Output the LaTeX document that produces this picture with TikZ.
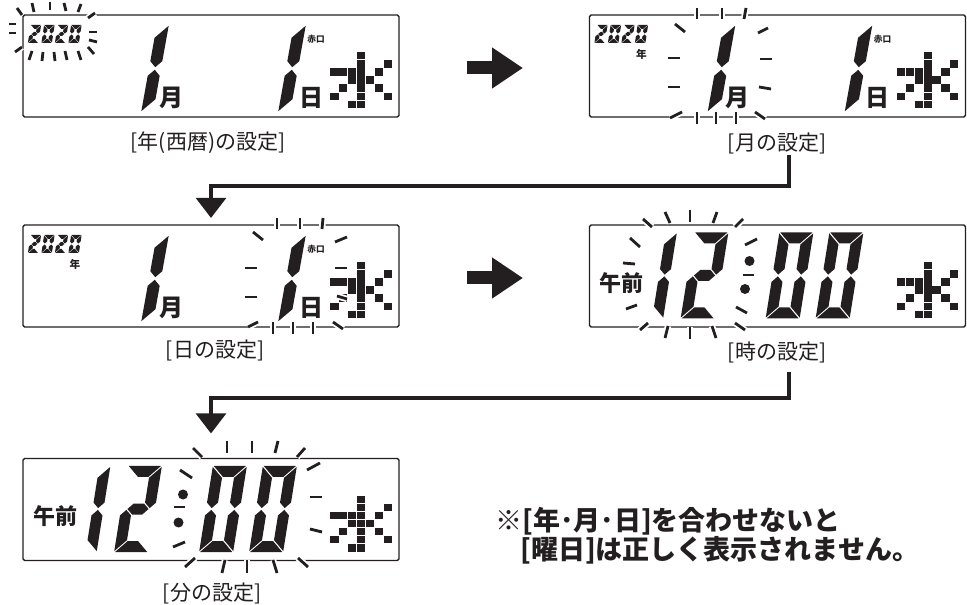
\documentclass[tikz,border=0pt]{standalone}
\usepackage{fontspec}
\setmainfont{Noto Sans CJK JP}
\usetikzlibrary{arrows.meta,calc}

\definecolor{ink}{RGB}{35,31,32}

% segment digits: width, height, half thickness, gap, slant
\newcommand{\digitsize}[5]{\pgfmathsetmacro\sgw{#1/2}\pgfmathsetmacro\sgh{#2/2}\def\sgt{#3}\def\sgd{#4}\def\sgs{#5}}
\newcommand{\lcda}{\fill[ink] (-\sgw-\sgt+\sgd,-\sgh-\sgt) -- (\sgw+\sgt-\sgd,-\sgh-\sgt) -- (\sgw-\sgt-\sgd,-\sgh+\sgt) -- (-\sgw+\sgt+\sgd,-\sgh+\sgt) -- cycle;}
\newcommand{\lcdb}{\fill[ink] (\sgw+\sgt,-\sgh-\sgt+\sgd) -- (\sgw+\sgt,-\sgd-\sgt) -- (\sgw,-\sgd) -- (\sgw-\sgt,-\sgd-\sgt) -- (\sgw-\sgt,-\sgh+\sgt+\sgd) -- cycle;}
\newcommand{\lcdc}{\fill[ink] (\sgw,\sgd) -- (\sgw+\sgt,\sgd+\sgt) -- (\sgw+\sgt,\sgh+\sgt-\sgd) -- (\sgw-\sgt,\sgh-\sgt-\sgd) -- (\sgw-\sgt,\sgd+\sgt) -- cycle;}
\newcommand{\lcdd}{\fill[ink] (-\sgw+\sgt+\sgd,\sgh-\sgt) -- (\sgw-\sgt-\sgd,\sgh-\sgt) -- (\sgw+\sgt-\sgd,\sgh+\sgt) -- (-\sgw-\sgt+\sgd,\sgh+\sgt) -- cycle;}
\newcommand{\lcde}{\fill[ink] (-\sgw,\sgd) -- (-\sgw+\sgt,\sgd+\sgt) -- (-\sgw+\sgt,\sgh-\sgt-\sgd) -- (-\sgw-\sgt,\sgh+\sgt-\sgd) -- (-\sgw-\sgt,\sgd+\sgt) -- cycle;}
\newcommand{\lcdf}{\fill[ink] (-\sgw-\sgt,-\sgh-\sgt+\sgd) -- (-\sgw+\sgt,-\sgh+\sgt+\sgd) -- (-\sgw+\sgt,-\sgd-\sgt) -- (-\sgw,-\sgd) -- (-\sgw-\sgt,-\sgd-\sgt) -- cycle;}
\newcommand{\lcdg}{\fill[ink] (-\sgw+\sgd,0) -- (-\sgw+\sgd+\sgt,-\sgt) -- (\sgw-\sgd-\sgt,-\sgt) -- (\sgw-\sgd,0) -- (\sgw-\sgd-\sgt,\sgt) -- (-\sgw+\sgd+\sgt,\sgt) -- cycle;}
\newcommand{\lcdnum}[3]{\begin{scope}[shift={(#1,#2)},xslant=\sgs]\foreach \sg in {#3}{\csname lcd\sg\endcsname}\end{scope}}

% weekday mark, 7x7 dots
\newcommand{\suimark}[2]{\begin{scope}[shift={(#1,#2)}]
  \foreach \cx/\cy in {3/0,3/1,6/1,0/2,1/2,2/2,3/2,5/2,2/3,3/3,4/3,1/4,3/4,5/4,0/5,3/5,6/5,2/6,3/6}
    \fill[ink] (\cx*8.9+0.35,\cy*8.1+0.35) rectangle ++(8.2,7.4);
\end{scope}}

% blinking marks
\newcommand{\flashmarks}[1]{%
  \foreach \xa/\ya/\xb/\yb in {#1}{\draw[flashhalo] (\xa,\ya) -- (\xb,\yb);}
  \foreach \xa/\ya/\xb/\yb in {#1}{\draw[flashray] (\xa,\ya) -- (\xb,\yb);}}

\newcommand{\datescreen}[1]{%
  \digitsize{6.5}{14}{2}{0.45}{-0.15}
  \lcdnum{11.5}{19}{a,b,g,e,d}\lcdnum{25}{19}{a,b,c,d,e,f}\lcdnum{38.5}{19}{a,b,g,e,d}\lcdnum{52}{19}{a,b,c,d,e,f}
  \digitsize{0}{76}{6}{1.3}{-0.18}
  \lcdnum{132}{53.5}{b,e}\lcdnum{269}{53.5}{b,e}
  \node[unitchar] (#1mon) at (148,83) {月};
  \node[unitchar] (#1day) at (288,83) {日};
  \node[tinychar] (#1rokuyo) at (293,24) {赤口};
  \suimark{307}{36.7}}

\newcommand{\timescreen}[1]{%
  \node[ampm] (#1ampm) at (32,58) {午前};
  \digitsize{23}{75}{5.5}{0.9}{-0.16}
  \lcdnum{63.5}{50.5}{b,c}\lcdnum{115}{50.5}{a,b,g,e,d}
  \lcdnum{200}{50.5}{a,b,c,d,e,f}\lcdnum{250}{50.5}{a,b,c,d,e,f}
  \fill[ink] (160,36) circle (5);
  \fill[ink] (155.5,64) circle (5);
  \suimark{307}{36.7}}

\begin{document}
\begin{tikzpicture}[x=0.75pt,y=0.75pt,yscale=-1,xscale=1,
  panel/.style={draw=ink,line width=1.1pt,rounded corners=1.2pt,minimum width=282pt,minimum height=76.5pt,inner sep=0pt,outer sep=0pt},
  caption/.style={font=\fontsize{15.75}{18}\selectfont,text=ink,inner sep=0pt},
  note/.style={font=\bfseries\fontsize{20.25}{24}\selectfont,text=ink,inner sep=0pt,anchor=west},
  unitchar/.style={font=\bfseries\fontsize{18}{20}\selectfont,text=ink,inner sep=0pt},
  ampm/.style={font=\bfseries\fontsize{16.5}{18}\selectfont,text=ink,inner sep=0pt},
  tinychar/.style={font=\bfseries\fontsize{6.5}{7}\selectfont,text=ink,inner sep=0pt},
  yearchar/.style={font=\bfseries\fontsize{8}{9}\selectfont,text=ink,inner sep=0pt},
  flashhalo/.style={draw=white,line width=4.8pt},
  flashray/.style={draw=ink,line width=2.1pt},
  bigarrow/.style={draw=ink,line width=9.75pt,-{Triangle[length=23.25pt,width=29.25pt]}},
  elbow/.style={draw=ink,line width=3.4pt,-{Triangle[length=15pt,width=22pt]}}]
\useasboundingbox (0,0) rectangle (967,605);

%Panels
\node[panel] (p1) at (211,66) {};
\node[panel] (p2) at (777.5,66) {};
\node[panel] (p3) at (211,276) {};
\node[panel] (p4) at (777.5,276) {};
\node[panel] (p5) at (211,509.5) {};

%Screens
\begin{scope}[shift={(23,15)}] \datescreen{pa} \end{scope}
\begin{scope}[shift={(589.5,15)}] \datescreen{pb}
  \node[yearchar] (pbyear) at (52,39.5) {年}; \end{scope}
\begin{scope}[shift={(23,225)}] \datescreen{pc}
  \node[yearchar] (pcyear) at (52,39.5) {年}; \end{scope}
\begin{scope}[shift={(589.5,225)}] \timescreen{pd} \end{scope}
\begin{scope}[shift={(23,458.5)}] \timescreen{pe} \end{scope}

%Blinking
\flashmarks{22/15/17/8, 34/12/32/3, 50/10/50/2, 66/11/64/3, 78/12/81/4, 88/18/95/13, 89/32/97/32, 89/40/97/42, 88/47/94/54, 78/51/81/60, 65/51/67/60, 54/52/55/61, 43/52/42/61, 32/51/29/60, 22/47/15/52, 16/33/9/33, 16/24/9/24}
\flashmarks{697/19/697/8, 722/19/722/8, 744/19/746/8, 685/32/675/24, 758/33/768/28, 680/58/668/58, 680/87/668/87, 760/59/772/59, 759/87/771/89, 682/112/670/118, 697/112/697/124, 716/112/716/124, 736/112/736/124, 755/112/765/119}
\flashmarks{277/229/277/218, 300/229/300/218, 322/229/323/218, 263/240/253/232, 335/242/347/237, 257/268/245/268, 257/297/245/297, 335/268/347/268, 337/296/347/299, 258/322/248/327, 273/322/273/334, 293/322/293/334, 313/322/313/334, 333/322/343/329}
\flashmarks{652/227/643/219, 670/223/665/212, 690/222/690/210, 713/223/717/212, 735/227/743/219, 640/247/630/238, 635/264/623/263, 637/305/626/309, 745/245/757/239, 743/275/754/275, 736/307/747/313, 648/323/640/330, 668/326/665/338, 690/327/690/339, 712/326/716/338, 735/323/745/330}
\flashmarks{202/457/193/448, 227/453/227/441, 252/453/252/441, 275/453/278/441, 297/457/305/448, 192/478/180/470, 185/507/174/507, 185/542/173/547, 307/470/320/463, 310/497/322/497, 310/529/322/532, 195/558/185/567, 225/560/222/573, 247/560/247/573, 273/560/277/573, 298/558/308/567}

%Captions
\node[caption] (l1) at (208,143) {[年(西暦)の設定]};
\node[caption] (l2) at (777,143) {[月の設定]};
\node[caption] (l3) at (215,350) {[日の設定]};
\node[caption] (l4) at (777,352) {[時の設定]};
\node[caption] (l5) at (212,593) {[分の設定]};

%Arrows
\draw[bigarrow] ($(p1.east)+(68,2)$) -- ($(p2.west)+(-66.5,2)$);
\draw[bigarrow] ($(p3.east)+(68,2)$) -- ($(p4.west)+(-66.5,2)$);
\coordinate (e1) at (789,155);
\coordinate (e2) at (789,372);
\draw[elbow,shorten >=5.25pt] (e1) |- ($(p3.north)+(0,-39)$) -- (p3.north);
\draw[elbow,shorten >=18.75pt] (e2) |- ($(p5.north)+(0,-60.5)$) -- (p5.north);

%Note
\node[note] (n1) at (495,521) {※[年･月･日]を合わせないと};
\node[note] (n2) at (520,550) {[曜日]は正しく表示されません。};
\end{tikzpicture}
\end{document}
